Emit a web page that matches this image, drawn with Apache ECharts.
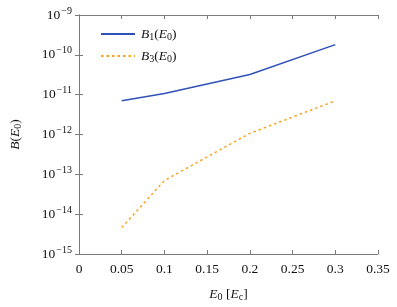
<!DOCTYPE html>
<html><head><meta charset="utf-8">
<script src="https://cdn.jsdelivr.net/npm/echarts@6/dist/echarts.min.js"></script>
<style>html,body{margin:0;padding:0;background:#fff}#c{width:397px;height:307px}</style>
</head><body><div id="c"></div>
<script>
const xValues = [0.05, 0.1, 0.2, 0.3];
const b1Values = [7.0e-12, 1.07e-11, 3.2e-11, 1.8e-10];
const b3Values = [4.6e-15, 7.0e-14, 1.07e-12, 7.0e-12];
const xTicks = [0, 0.05, 0.1, 0.15, 0.2, 0.25, 0.3, 0.35];
const yExponents = [-15, -14, -13, -12, -11, -10, -9];

const FONT = '"Liberation Serif", "DejaVu Serif", serif';
const axisColor = '#7a7a7a';
const FS = 13.5, SS = 10;
const rich = {
  b: {fontFamily: FONT, fontSize: FS, color: '#111'},
  s: {fontFamily: FONT, fontSize: SS, color: '#111', verticalAlign: 'bottom', padding: [0,0,8,1]},
  i: {fontFamily: FONT, fontSize: FS, fontStyle: 'italic', color: '#111'},
  n: {fontFamily: FONT, fontSize: FS, color: '#111'},
  sub: {fontFamily: FONT, fontSize: SS, color: '#111', padding: [6,0,0,0]}
};
const chart = echarts.init(document.getElementById('c'));
const mkPairs = (ys) => xValues.map((x, k) => [x, ys[k]]);
chart.setOption({
  animation: false,
  backgroundColor: '#fff',
  grid: {left: 79, right: 19, top: 15, bottom: 53},
  legend: {
    orient: 'vertical', left: 95, top: 22, itemWidth: 34, itemHeight: 14, itemGap: 7,
    itemStyle: {opacity: 0},
    textStyle: {rich: rich, padding: [0,0,0,1]},
    formatter: function(name){
      return name === 'B1' ? '{i|B}{sub|1}{n|(}{i|E}{sub|0}{n|)}' : '{i|B}{sub|3}{n|(}{i|E}{sub|0}{n|)}';
    },
    data: ['B1', 'B3']
  },
  xAxis: [{
    type: 'value', min: 0, max: 0.35, interval: 0.05, position: 'bottom',
    axisLine: {lineStyle: {color: axisColor, width: 1}},
    axisTick: {inside: true, length: 4, lineStyle: {color: axisColor}},
    splitLine: {show: false},
    axisLabel: {fontFamily: FONT, fontSize: FS, color: '#111', margin: 8,
      formatter: function(v){ const t = xTicks.find(q => Math.abs(q - v) < 1e-9); return t === undefined ? '' : String(t); }},
    name: '{i|E}{sub|0} {n|[}{i|E}{sub|c}{n|]}', nameLocation: 'middle', nameGap: 32,
    nameTextStyle: {rich: rich}
  }, {
    type: 'value', min: 0, max: 0.35, interval: 0.05, position: 'top',
    axisLine: {lineStyle: {color: axisColor, width: 1}},
    axisTick: {inside: true, length: 4, lineStyle: {color: axisColor}},
    axisLabel: {show: false}, splitLine: {show: false}
  }],
  yAxis: [{
    type: 'log', logBase: 10, min: 1e-15, max: 1e-9, position: 'left',
    axisLine: {show: true, lineStyle: {color: axisColor, width: 1}},
    axisTick: {show: true, inside: true, length: 4, lineStyle: {color: axisColor}},
    minorTick: {show: false}, splitLine: {show: false},
    axisLabel: {margin: 7, formatter: function(v){
      const e = Math.round(Math.log10(v));
      if (yExponents.indexOf(e) < 0) return '';
      return '{b|10}{s|\u2212' + Math.abs(e) + '}';
    }, rich: rich},
    name: '{i|B}{n|(}{i|E}{sub|0}{n|)}', nameLocation: 'middle', nameGap: 56, nameRotate: 90,
    nameTextStyle: {rich: rich}
  }, {
    type: 'log', logBase: 10, min: 1e-15, max: 1e-9, position: 'right',
    axisLine: {show: true, lineStyle: {color: axisColor, width: 1}},
    axisTick: {show: true, inside: true, length: 4, lineStyle: {color: axisColor}},
    axisLabel: {show: false}, splitLine: {show: false}
  }],
  series: [{
    name: 'B1', type: 'line', data: mkPairs(b1Values), showSymbol: false, symbol: 'none',
    xAxisIndex: 0, yAxisIndex: 0,
    lineStyle: {color: '#3052b8', width: 1.5}, itemStyle: {color: '#3052b8'}
  }, {
    name: 'B3', type: 'line', data: mkPairs(b3Values), showSymbol: false, symbol: 'none',
    xAxisIndex: 0, yAxisIndex: 0,
    lineStyle: {color: '#f7a520', width: 1.5, type: [2.5, 3]}, itemStyle: {color: '#f7a520'}
  }]
});
</script></body></html>
